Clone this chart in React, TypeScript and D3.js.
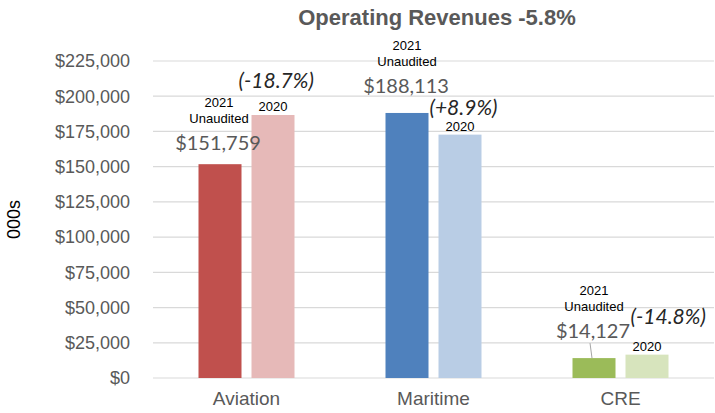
import React, { useRef, useEffect } from 'react';
import * as d3 from 'd3';

const categories = ['Aviation', 'Maritime', 'CRE'];
const values2021 = [151759, 188113, 14127];
const values2020 = [186665, 172739, 16581];
const changeLabels = ['(-18.7%)', '(+8.9%)', '(-14.8%)'];
const colors2021 = ['#C0504D', '#4F81BD', '#9BBB59'];
const colors2020 = ['#E6B9B8', '#B9CDE5', '#D7E4BD'];
const yTicks = [0, 25000, 50000, 75000, 100000, 125000, 150000, 175000, 200000, 225000];

const App: React.FC = () => {
  const svgRef = useRef<SVGSVGElement | null>(null);

  useEffect(() => {
    const svg = d3.select(svgRef.current);
    svg.selectAll('*').remove();

    const width = 715;
    const height = 413;
    const margin = { top: 61, right: 1, bottom: 35, left: 153 };
    const plotW = width - margin.left - margin.right;
    const plotH = height - margin.top - margin.bottom;

    const g = svg.append('g').attr('transform', `translate(${margin.left},${margin.top})`);

    const x = d3.scaleBand().domain(categories).range([0, plotW]);
    const y = d3.scaleLinear().domain([0, 225000]).range([plotH, 0]);
    const barW = 43;
    const gap = 10;

    // gridlines
    g.selectAll('.grid')
      .data(yTicks)
      .enter()
      .append('line')
      .attr('x1', 0)
      .attr('x2', plotW)
      .attr('y1', d => y(d))
      .attr('y2', d => y(d))
      .attr('stroke', '#D9D9D9')
      .attr('stroke-width', 1.2);

    // y tick labels
    g.selectAll('.ytick')
      .data(yTicks)
      .enter()
      .append('text')
      .attr('x', -23)
      .attr('y', d => y(d))
      .attr('dy', '0.35em')
      .attr('text-anchor', 'end')
      .attr('fill', '#595959')
      .attr('font-family', 'Arial, "Liberation Sans", sans-serif')
      .attr('font-size', '18px')
      .text(d => d3.format('$,')(d));

    // y axis title
    svg.append('text')
      .attr('transform', `translate(20,${margin.top + plotH / 2}) rotate(-90)`)
      .attr('text-anchor', 'middle')
      .attr('fill', '#000')
      .attr('font-family', 'Arial, "Liberation Sans", sans-serif')
      .attr('font-size', '18px')
      .text('000s');

    // title
    svg.append('text')
      .attr('x', 437)
      .attr('y', 25)
      .attr('text-anchor', 'middle')
      .attr('fill', '#595959')
      .attr('font-family', 'Arial, "Liberation Sans", sans-serif')
      .attr('font-weight', 'bold')
      .attr('font-size', '22px')
      .text('Operating Revenues -5.8%');

    const x21 = (i: number) => x(categories[i])! + x.bandwidth() / 2 - gap / 2 - barW;
    const x20 = (i: number) => x(categories[i])! + x.bandwidth() / 2 + gap / 2;

    categories.forEach((c, i) => {
      g.append('rect')
        .attr('x', x21(i))
        .attr('y', y(values2021[i]))
        .attr('width', barW)
        .attr('height', plotH - y(values2021[i]))
        .attr('fill', colors2021[i]);
      g.append('rect')
        .attr('x', x20(i))
        .attr('y', y(values2020[i]))
        .attr('width', barW)
        .attr('height', plotH - y(values2020[i]))
        .attr('fill', colors2020[i]);

      // category label
      g.append('text')
        .attr('x', x(c)! + x.bandwidth() / 2)
        .attr('y', plotH + 27)
        .attr('text-anchor', 'middle')
        .attr('fill', '#595959')
        .attr('font-family', 'Arial, "Liberation Sans", sans-serif')
        .attr('font-size', '19px')
        .text(c);
    });

    // label placement relative to the bar tops
    const lbl = [
      { vx: -2, vy: -14, pcx: -13, pcy: -27, leader: false },
      { vx: -1, vy: -20, pcx: -9, pcy: -20, leader: false },
      { vx: -1, vy: -20, pcx: 5, pcy: -31, leader: true },
    ];

    categories.forEach((c, i) => {
      const o = lbl[i];
      const cx = x21(i) + barW / 2 + o.vx;
      const valueY = y(values2021[i]) + o.vy;
      g.append('text')
        .attr('x', cx)
        .attr('y', valueY)
        .attr('text-anchor', 'middle')
        .attr('fill', '#595959')
        .attr('font-family', 'Lato, "Open Sans", sans-serif')
        .attr('font-size', '20px')
        .text(d3.format('$,')(values2021[i]));
      g.append('text')
        .attr('x', cx + 1)
        .attr('y', valueY - 27)
        .attr('text-anchor', 'middle')
        .attr('fill', '#000')
        .attr('font-family', 'Arial, "Liberation Sans", sans-serif')
        .attr('font-size', '13px')
        .text('Unaudited');
      g.append('text')
        .attr('x', cx + 1)
        .attr('y', valueY - 43)
        .attr('text-anchor', 'middle')
        .attr('fill', '#000')
        .attr('font-family', 'Arial, "Liberation Sans", sans-serif')
        .attr('font-size', '13px')
        .text('2021');

      if (o.leader) {
        g.append('line')
          .attr('x1', cx - 3)
          .attr('y1', valueY + 5)
          .attr('x2', cx - 1)
          .attr('y2', y(values2021[i]))
          .attr('stroke', '#A6A6A6')
          .attr('stroke-width', 1);
      }

      // 2020 label
      g.append('text')
        .attr('x', x20(i) + barW / 2)
        .attr('y', y(values2020[i]) - 4)
        .attr('text-anchor', 'middle')
        .attr('fill', '#000')
        .attr('font-family', 'Arial, "Liberation Sans", sans-serif')
        .attr('font-size', '13px')
        .text('2020');

      // change label
      g.append('text')
        .attr('x', x20(i) + o.pcx)
        .attr('y', y(values2020[i]) + o.pcy)
        .attr('text-anchor', 'start')
        .attr('fill', '#262626')
        .attr('font-family', 'Lato, "Open Sans", sans-serif')
        .attr('font-style', 'italic')
        .attr('font-size', '21px')
        .text(changeLabels[i]);
    });
  }, []);

  return (
    <svg
      ref={svgRef}
      width={715}
      height={413}
      style={{ position: 'absolute', left: 0, top: 0, background: '#fff' }}
    />
  );
};

export default App;
